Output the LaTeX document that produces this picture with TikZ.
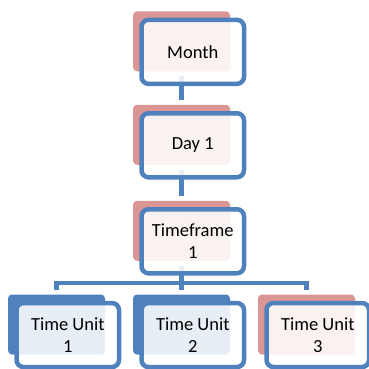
\documentclass[tikz,border=0pt]{standalone}
\usepackage{fontspec}
\setmainfont{Carlito}
\definecolor{obl}{HTML}{4F81BD}
\definecolor{ored}{HTML}{D99694}
\tikzset{
  front/.style={draw=obl, line width=4.5pt, fill=white, fill opacity=0.87, text opacity=1,
    rounded corners=7pt, minimum width=102.5pt, minimum height=64pt, inner sep=0pt, outer sep=0pt,
    align=center, font=\fontsize{18.5}{22}\selectfont},
  backbox/.style={rounded corners=4pt, minimum width=97pt, minimum height=60pt, inner sep=0pt, outer sep=0pt},
  backred/.style={backbox, fill=ored},
  backblue/.style={backbox, fill=obl},
  conn/.style={draw=obl, line width=4.5pt}
}
\begin{document}
\begin{tikzpicture}[x=1pt,y=-1pt]
\useasboundingbox (0,0) rectangle (369,368);
% back boxes
\node[backred] (monthB) at (181.5,41.35) {};
\node[backred] (dayB) at (181.5,134.75) {};
\node[backred] (tfB) at (181.5,230.75) {};
\node[backblue] (tu1B) at (56.5,324.5) {};
\node[backblue] (tu2B) at (181.5,324.5) {};
\node[backred] (tu3B) at (306.5,324.5) {};
% connectors
\coordinate (bus) at (0,283);
\draw[conn, shorten <=5pt, shorten >=5pt] (monthB.south) -- (dayB.north);
\draw[conn, shorten <=5pt, shorten >=5pt] (dayB.south) -- (tfB.north);
\draw[conn, shorten <=5pt] (tfB.south) -- (tfB.south |- bus);
\draw[conn] ([yshift=5pt]tu1B.north) -- (tu1B.north |- bus) -- (tu3B.north |- bus) -- ([yshift=5pt]tu3B.north);
\draw[conn] (tu2B.north |- bus) -- ([yshift=5pt]tu2B.north);
% front boxes
\node[front] (month) at (192.75,51.85) {Month};
\node[front] (day) at (192.75,145.25) {Day 1};
\node[front] (tf) at (192.75,241.25) {Timeframe\\1};
\node[front] (tu1) at (67.75,335) {Time Unit\\1};
\node[front] (tu2) at (192.75,335) {Time Unit\\2};
\node[front] (tu3) at (317.75,335) {Time Unit\\3};
\end{tikzpicture}
\end{document}
